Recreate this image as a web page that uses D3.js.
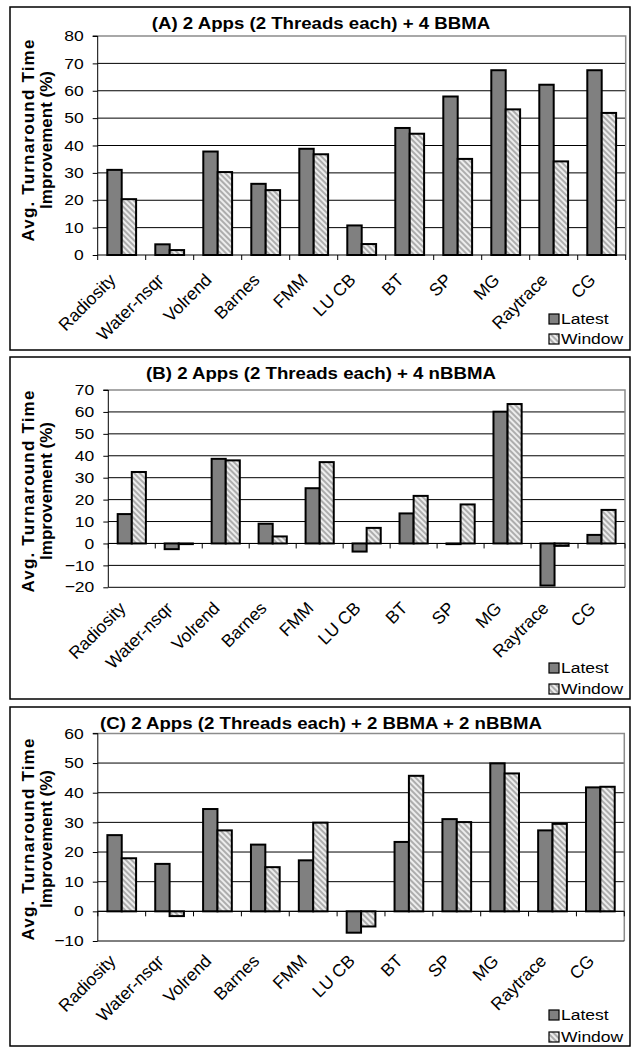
<!DOCTYPE html>
<html><head><meta charset="utf-8">
<script src="https://cdn.jsdelivr.net/npm/d3@7"></script>
<style>
html,body{margin:0;padding:0;background:#fff;}
svg{display:block;}
</style></head>
<body>
<svg id="chart" width="634" height="1049"></svg>
<script>
// ---------- data ----------
const categories = ["Radiosity","Water-nsqr","Volrend","Barnes","FMM","LU CB","BT","SP","MG","Raytrace","CG"];
const seriesNames = ["Latest","Window"];
const titleA = "(A) 2 Apps (2 Threads each) + 4 BBMA";
const titleB = "(B) 2 Apps (2 Threads each) + 4 nBBMA";
const titleC = "(C) 2 Apps (2 Threads each) + 2 BBMA + 2 nBBMA";
const latestA = [31.1, 3.9, 37.8, 26.0, 38.8, 10.8, 46.4, 57.9, 67.5, 62.2, 67.5];
const windowA = [20.4, 1.8, 30.3, 23.7, 36.8, 4.0, 44.3, 35.1, 53.2, 34.2, 51.9];
const latestB = [13.4, -2.6, 38.6, 9.0, 25.2, -3.7, 13.7, -0.3, 60.1, -19.2, 3.9];
const windowB = [32.6, -0.3, 37.9, 3.2, 37.1, 7.1, 21.7, 17.8, 63.6, -1.1, 15.3];
const latestC = [25.7, 16.0, 34.5, 22.5, 17.2, -7.2, 23.4, 31.1, 49.9, 27.3, 41.8];
const windowC = [17.9, -1.6, 27.3, 14.9, 29.9, -5.1, 45.7, 30.1, 46.5, 29.5, 42.0];
const ticksA = [0, 10, 20, 30, 40, 50, 60, 70, 80];
const ticksB = [-20, -10, 0, 10, 20, 30, 40, 50, 60, 70];
const ticksC = [-10, 0, 10, 20, 30, 40, 50, 60];
const yTitle1 = "Avg. Turnaround Time";
const yTitle2 = "Improvement (%)";

// ---------- layout ----------
const FONT = "'Liberation Sans', Arial, Helvetica, sans-serif";
const SX = 1.13; // horizontal stretch of the original figure's text
const panels = [
  {title: titleA, latest: latestA, win: windowA, ticks: ticksA,
   box: [10, 7, 630, 350], plot: [97.7, 36, 625.7, 255], titleY: 29, yTitleC: 140, legY: [319, 339], labOff: 26},
  {title: titleB, latest: latestB, win: windowB, ticks: ticksB,
   box: [10, 357, 630, 699], plot: [108.3, 390, 625, 587.3], titleY: 379, yTitleC: 491, legY: [668, 689], labOff: 22},
  {title: titleC, latest: latestC, win: windowC, ticks: ticksC,
   box: [10, 707, 630, 1046], plot: [97.8, 733.4, 624.3, 941], titleY: 729, yTitleC: 839, legY: [1015, 1037], labOff: 21}
];

const svg = d3.select("#chart");
const defs = svg.append("defs");
const pat = defs.append("pattern").attr("id", "hatch")
  .attr("patternUnits", "userSpaceOnUse").attr("width", 4).attr("height", 4)
  .attr("patternTransform", "rotate(-45)");
pat.append("rect").attr("width", 4).attr("height", 4).attr("fill", "#ededed");
pat.append("rect").attr("width", 2).attr("height", 4).attr("fill", "#adadad");

const colors = {Latest: "#808080", Window: "url(#hatch)"};

function addText(g, x, y, str, o) {
  const a = (o.rot || 0) * Math.PI / 180;
  const sx = o.sx || 1;
  const c = Math.cos(a), s = Math.sin(a);
  // matrix = translate(x,y) * scale(sx,1) * rotate(a)
  const m = [sx * c, s, -sx * s, c, x, y].map(v => +v.toFixed(5)).join(",");
  const t = g.append("text")
    .attr("transform", `matrix(${m})`)
    .attr("font-family", FONT)
    .attr("font-size", o.size)
    .attr("font-weight", o.weight || "normal")
    .attr("text-anchor", o.anchor || "start")
    .attr("dominant-baseline", o.base || "auto")
    .attr("fill", "#000")
    .text(str);
  if (o.ls) t.attr("letter-spacing", o.ls);
  return t;
}

panels.forEach(p => {
  const g = svg.append("g");
  const [bx0, by0, bx1, by1] = p.box;
  const [L, T, R, B] = p.plot;

  g.append("rect").attr("x", bx0).attr("y", by0).attr("width", bx1 - bx0).attr("height", by1 - by0)
    .attr("fill", "#fff").attr("stroke", "#000").attr("stroke-width", 1.5);

  const x = d3.scaleBand().domain(categories).range([L, R]).paddingInner(0.4).paddingOuter(0.2);
  const xs = d3.scaleBand().domain(seriesNames).range([0, x.bandwidth()]);
  const y = d3.scaleLinear().domain([p.ticks[0], p.ticks[p.ticks.length - 1]]).range([B, T]);

  // gridlines
  g.append("g").selectAll("line").data(p.ticks.filter(t => t !== p.ticks[0] && t !== p.ticks[p.ticks.length - 1]))
    .join("line")
    .attr("x1", L).attr("x2", R).attr("y1", d => y(d)).attr("y2", d => y(d))
    .attr("stroke", "#000").attr("stroke-width", 1);
  g.append("path").attr("d", `M${L},${T}H${R}V${B}`).attr("fill", "none")
    .attr("stroke", "#8c8c8c").attr("stroke-width", 1.5);
  if (p.ticks[0] !== 0) {
    g.append("line").attr("x1", L).attr("x2", R).attr("y1", B).attr("y2", B)
      .attr("stroke", "#000").attr("stroke-width", 1);
  }

  // bars
  const rows = categories.map((c, i) => ({c, vals: [{s: "Latest", v: p.latest[i]}, {s: "Window", v: p.win[i]}]}));
  const grp = g.append("g").selectAll("g").data(rows).join("g")
    .attr("transform", d => `translate(${x(d.c)},0)`);
  grp.selectAll("rect").data(d => d.vals).join("rect")
    .attr("x", d => xs(d.s)).attr("width", xs.bandwidth())
    .attr("y", d => y(Math.max(0, d.v)))
    .attr("height", d => Math.abs(y(d.v) - y(0)))
    .attr("fill", d => colors[d.s]).attr("stroke", "#000").attr("stroke-width", 2);

  // y axis
  const yAxis = d3.axisLeft(y).tickValues(p.ticks).tickSize(5).tickPadding(10).tickFormat(d3.format("d"));
  const ya = g.append("g").attr("transform", `translate(${L},0)`).call(yAxis);
  ya.select(".domain").attr("stroke", "#000").attr("stroke-width", 1).attr("d", `M-5,${T}H0V${B}`);
  ya.selectAll(".tick line").attr("stroke", "#000");
  ya.selectAll(".tick text").remove();
  p.ticks.forEach(t => addText(g, L - 14, y(t), d3.format("d")(t), {size: 15.5, anchor: "end", base: "central", sx: SX}));

  // x axis (zero line with ticks between categories)
  const y0 = y(0);
  g.append("line").attr("x1", L).attr("x2", R).attr("y1", y0).attr("y2", y0)
    .attr("stroke", "#000").attr("stroke-width", 1);
  const step = x.step();
  g.append("g").selectAll("line").data(d3.range(categories.length + 1)).join("line")
    .attr("x1", i => L + i * step).attr("x2", i => L + i * step)
    .attr("y1", y0).attr("y2", y0 + 5).attr("stroke", "#000").attr("stroke-width", 1);

  // category labels
  categories.forEach(c => {
    const cx = x(c) + x.bandwidth() / 2;
    addText(g, cx - 5, B + p.labOff, c, {size: 17.5, anchor: "end", rot: -45});
  });

  // title
  addText(g, 321, p.titleY, p.title, {size: 16.5, weight: "bold", anchor: "middle", sx: SX});

  // y title
  addText(g, 34, p.yTitleC, yTitle1, {size: 17, weight: "bold", anchor: "middle", rot: -90, ls: 1.2});
  addText(g, 52, p.yTitleC, yTitle2, {size: 17, weight: "bold", anchor: "middle", rot: -90});

  // legend
  seriesNames.forEach((s, i) => {
    const ly = p.legY[i];
    g.append("rect").attr("x", 549).attr("y", ly - 5).attr("width", 10).attr("height", 10)
      .attr("fill", colors[s]).attr("stroke", "#000").attr("stroke-width", 1.2);
    addText(g, 561, ly, s, {size: 15.5, base: "central", sx: SX});
  });
});
</script>
</body></html>
